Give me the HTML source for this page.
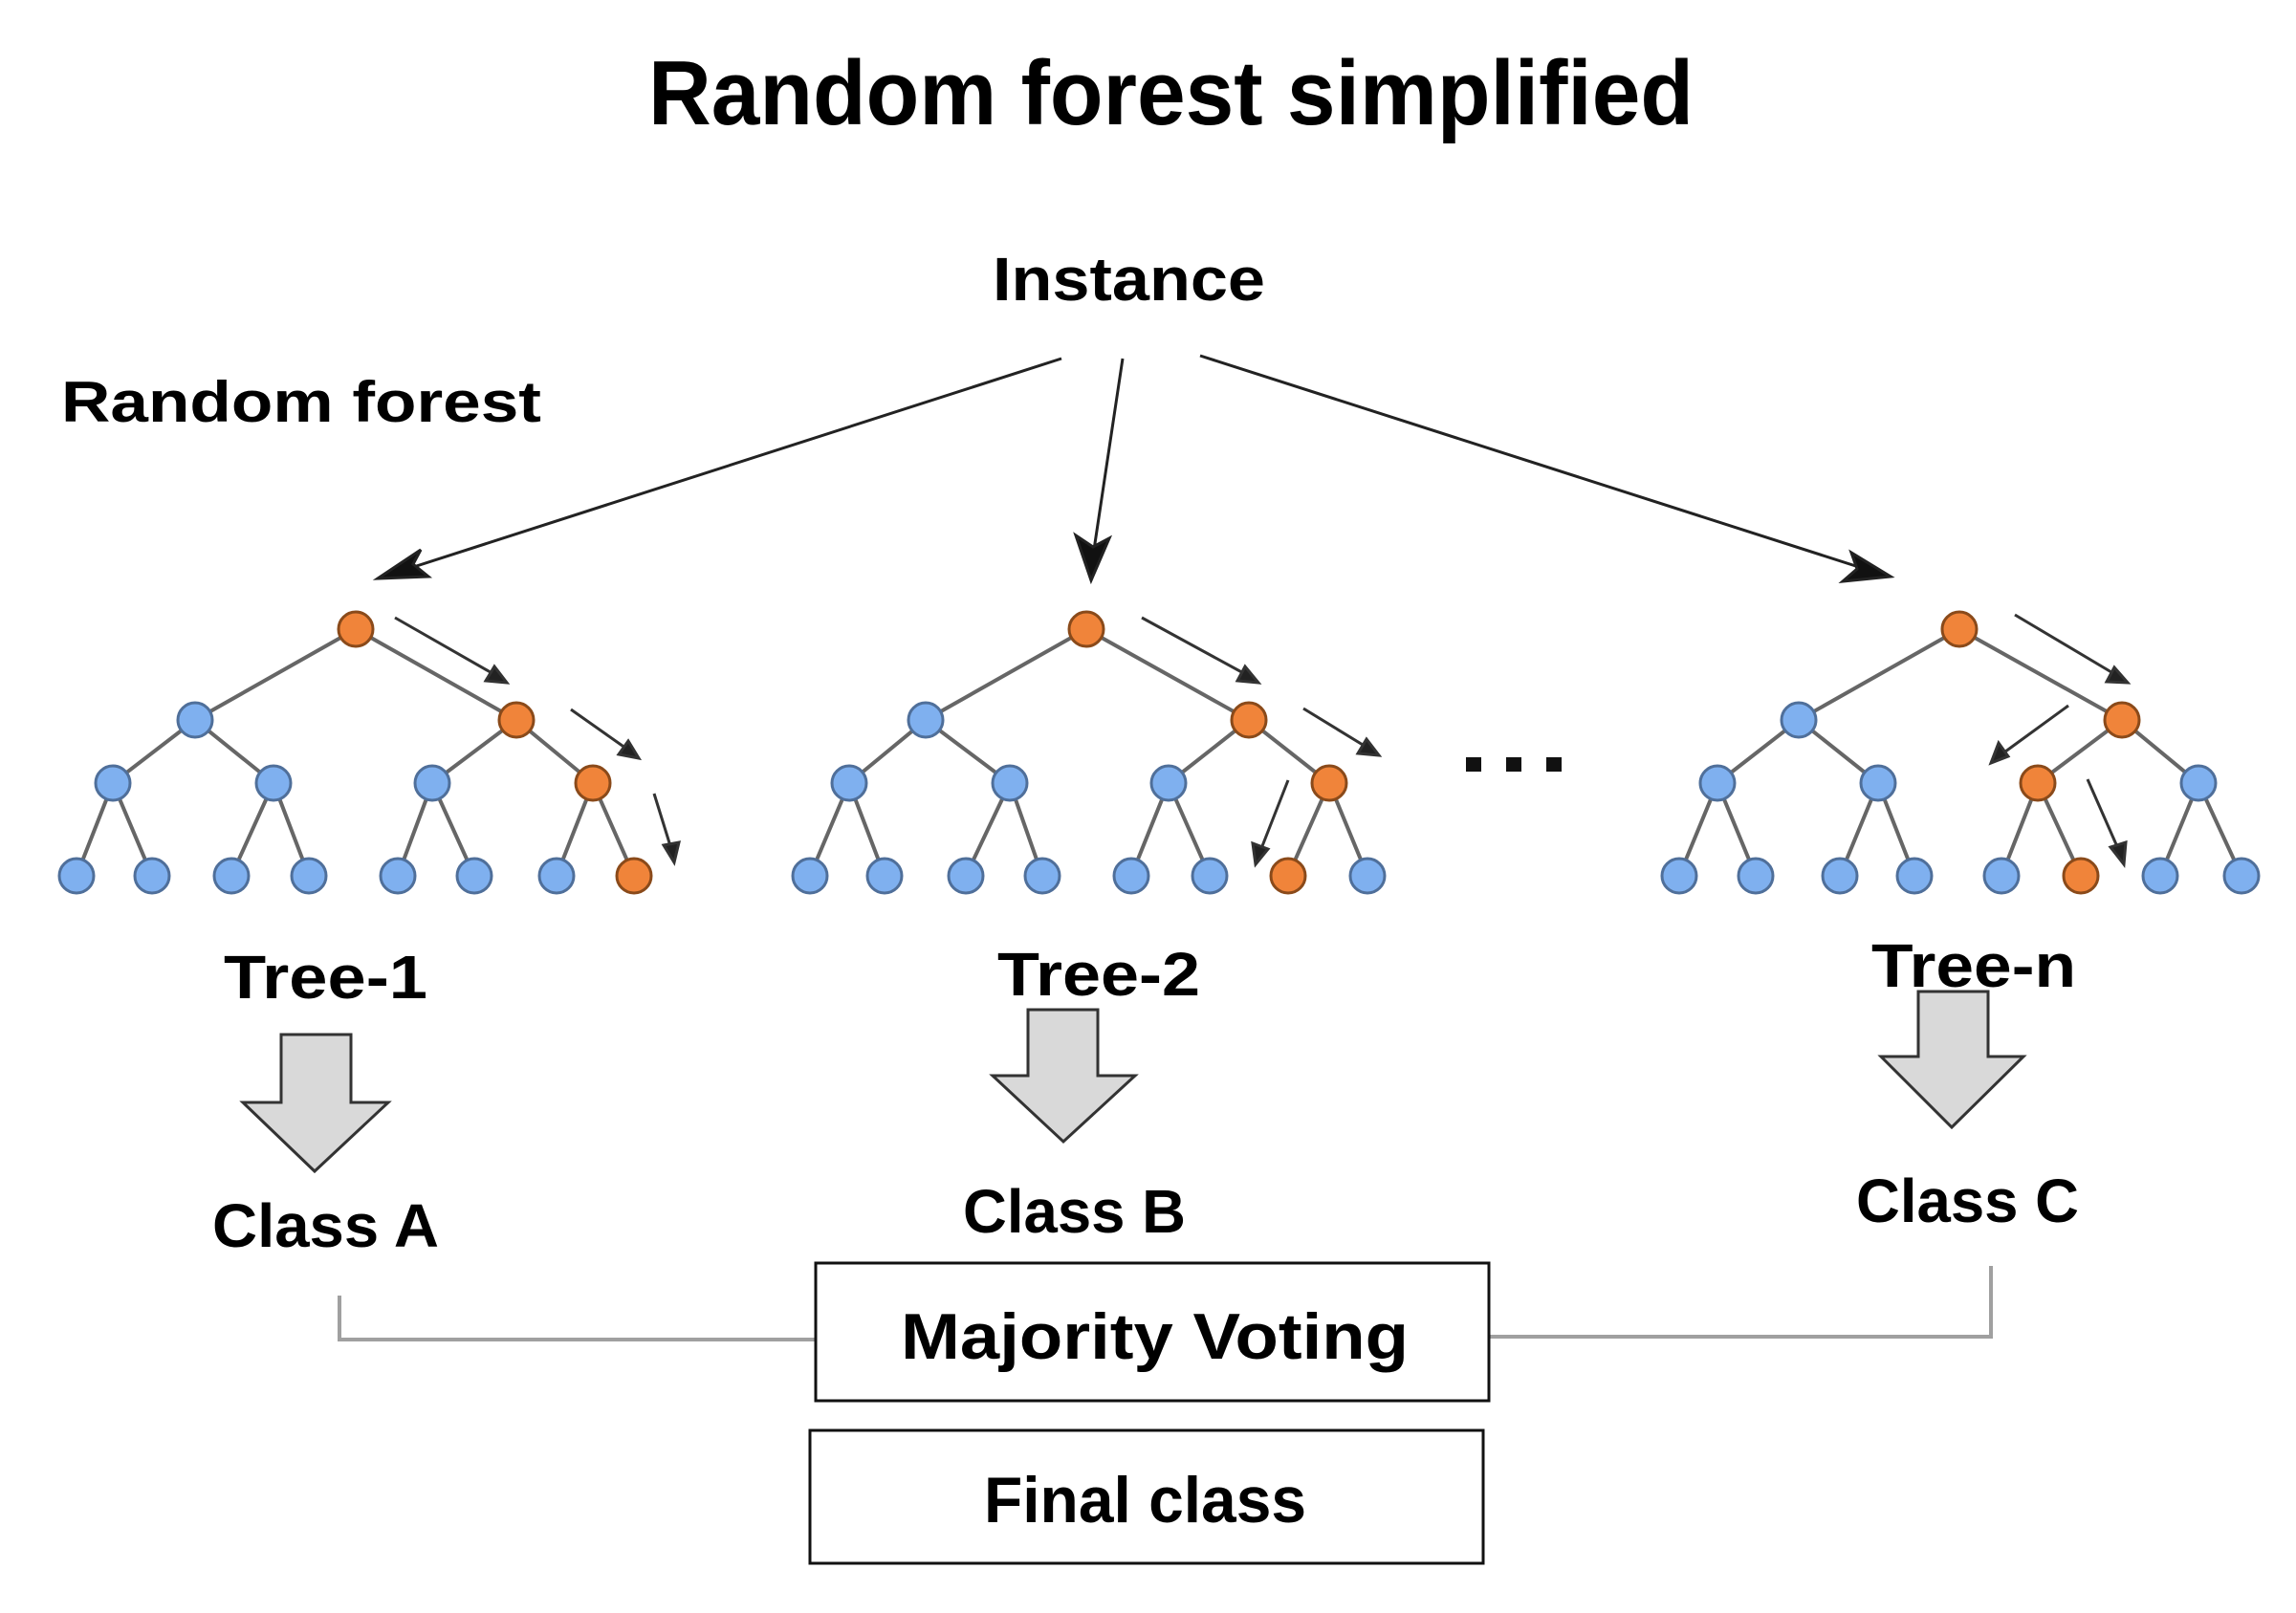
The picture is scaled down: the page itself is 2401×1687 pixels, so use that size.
<!DOCTYPE html>
<html><head><meta charset="utf-8"><style>
html,body{margin:0;padding:0;background:#fff;}
svg{display:block;}
text{font-family:"Liberation Sans",sans-serif;font-weight:bold;fill:#000;}
</style></head><body>
<svg width="2401" height="1687" viewBox="0 0 2401 1687" xmlns="http://www.w3.org/2000/svg">
<defs>
<marker id="ah" markerWidth="10" markerHeight="10" refX="9" refY="5" orient="auto" markerUnits="userSpaceOnUse" viewBox="0 0 10 10">
</marker>
</defs>
<rect width="2401" height="1687" fill="#fff"/>
<text x="678" y="130" font-size="96" textLength="1093" lengthAdjust="spacingAndGlyphs">Random forest simplified</text>
<text x="1038" y="314" font-size="64" textLength="285" lengthAdjust="spacingAndGlyphs">Instance</text>
<text x="64" y="441" font-size="60" textLength="502" lengthAdjust="spacingAndGlyphs">Random forest</text>

<!-- main arrows -->
<g stroke="#222" stroke-width="3" fill="#111">
<line x1="1110" y1="375" x2="420" y2="597"/>
<polygon points="395,605 440,575 432,590 448,603"/>
<line x1="1174" y1="375" x2="1144" y2="575"/>
<polygon points="1141,607 1125,560 1143,572 1160,563"/>
<line x1="1255" y1="372" x2="1950" y2="595"/>
<polygon points="1977,603 1927,608 1942,595 1936,578"/>
</g>

<!-- small arrows -->
<g stroke="#333" stroke-width="3" fill="#222">
<line x1="413" y1="646" x2="518" y2="706"/><polygon points="530,714 508,712 517,697"/>
<line x1="597" y1="742" x2="658" y2="785"/><polygon points="668,793 647,789 657,775"/>
<line x1="684" y1="830" x2="702" y2="888"/><polygon points="705,902 694,884 710,881"/>
<line x1="1194" y1="646" x2="1304" y2="706"/><polygon points="1316,714 1294,712 1302,697"/>
<line x1="1363" y1="741" x2="1430" y2="782"/><polygon points="1442,790 1420,788 1429,773"/>
<line x1="1347" y1="816" x2="1318" y2="890"/><polygon points="1313,904 1310,882 1326,888"/>
<line x1="2107" y1="643" x2="2213" y2="706"/><polygon points="2225,714 2203,713 2211,698"/>
<line x1="2163" y1="738" x2="2093" y2="789"/><polygon points="2082,798 2090,777 2100,791"/>
<line x1="2183" y1="815" x2="2216" y2="890"/><polygon points="2221,904 2207,886 2223,881"/>
</g>

<!-- trees -->
<g stroke="#666" stroke-width="4">
<!-- tree1 -->
<path d="M372,658 L204,753 M372,658 L540,753 M204,753 L118,819 M204,753 L286,819 M540,753 L452,819 M540,753 L620,819 M118,819 L80,916 M118,819 L159,916 M286,819 L242,916 M286,819 L323,916 M452,819 L416,916 M452,819 L496,916 M620,819 L582,916 M620,819 L663,916"/>
<path d="M1136,658 L968,753 M1136,658 L1306,753 M968,753 L888,819 M968,753 L1056,819 M1306,753 L1222,819 M1306,753 L1390,819 M888,819 L847,916 M888,819 L925,916 M1056,819 L1010,916 M1056,819 L1090,916 M1222,819 L1183,916 M1222,819 L1265,916 M1390,819 L1347,916 M1390,819 L1430,916"/>
<path d="M2049,658 L1881,753 M2049,658 L2219,753 M1881,753 L1796,819 M1881,753 L1964,819 M2219,753 L2131,819 M2219,753 L2299,819 M1796,819 L1756,916 M1796,819 L1836,916 M1964,819 L1924,916 M1964,819 L2002,916 M2131,819 L2093,916 M2131,819 L2176,916 M2299,819 L2259,916 M2299,819 L2344,916"/>
</g>
<g stroke="#4f6f9a" stroke-width="3" fill="#7fb0ef">
<circle cx="204" cy="753" r="18"/><circle cx="118" cy="819" r="18"/><circle cx="286" cy="819" r="18"/><circle cx="452" cy="819" r="18"/>
<circle cx="80" cy="916" r="18"/><circle cx="159" cy="916" r="18"/><circle cx="242" cy="916" r="18"/><circle cx="323" cy="916" r="18"/><circle cx="416" cy="916" r="18"/><circle cx="496" cy="916" r="18"/><circle cx="582" cy="916" r="18"/>
<circle cx="968" cy="753" r="18"/><circle cx="888" cy="819" r="18"/><circle cx="1056" cy="819" r="18"/><circle cx="1222" cy="819" r="18"/>
<circle cx="847" cy="916" r="18"/><circle cx="925" cy="916" r="18"/><circle cx="1010" cy="916" r="18"/><circle cx="1090" cy="916" r="18"/><circle cx="1183" cy="916" r="18"/><circle cx="1265" cy="916" r="18"/><circle cx="1430" cy="916" r="18"/>
<circle cx="1881" cy="753" r="18"/><circle cx="1796" cy="819" r="18"/><circle cx="1964" cy="819" r="18"/><circle cx="2299" cy="819" r="18"/>
<circle cx="1756" cy="916" r="18"/><circle cx="1836" cy="916" r="18"/><circle cx="1924" cy="916" r="18"/><circle cx="2002" cy="916" r="18"/><circle cx="2093" cy="916" r="18"/><circle cx="2259" cy="916" r="18"/><circle cx="2344" cy="916" r="18"/>
</g>
<g stroke="#8a4a1a" stroke-width="3" fill="#f0843a">
<circle cx="372" cy="658" r="18"/><circle cx="540" cy="753" r="18"/><circle cx="620" cy="819" r="18"/><circle cx="663" cy="916" r="18"/>
<circle cx="1136" cy="658" r="18"/><circle cx="1306" cy="753" r="18"/><circle cx="1390" cy="819" r="18"/><circle cx="1347" cy="916" r="18"/>
<circle cx="2049" cy="658" r="18"/><circle cx="2219" cy="753" r="18"/><circle cx="2131" cy="819" r="18"/><circle cx="2176" cy="916" r="18"/>
</g>

<!-- dots -->
<g fill="#111"><rect x="1533" y="792" width="16" height="15"/><rect x="1575" y="792" width="16" height="15"/><rect x="1617" y="792" width="16" height="15"/></g>

<text x="234" y="1044" font-size="64" textLength="213" lengthAdjust="spacingAndGlyphs">Tree-1</text>
<text x="1043" y="1041" font-size="64" textLength="212" lengthAdjust="spacingAndGlyphs">Tree-2</text>

<!-- block arrows -->
<g fill="#d9d9d9" stroke="#333" stroke-width="3">
<polygon points="294,1082 367,1082 367,1153 406,1153 329,1225 254,1153 294,1153"/>
<polygon points="1075,1056 1148,1056 1148,1125 1187,1125 1112,1194 1038,1125 1075,1125"/>
<polygon points="2006,1037 2079,1037 2079,1105 2116,1105 2041,1179 1967,1105 2006,1105"/>
</g>
<text x="1957" y="1032" font-size="64" textLength="214" lengthAdjust="spacingAndGlyphs">Tree-n</text>

<text x="222" y="1304" font-size="64" textLength="237" lengthAdjust="spacingAndGlyphs">Class A</text>
<text x="1007" y="1289" font-size="64" textLength="233" lengthAdjust="spacingAndGlyphs">Class B</text>
<text x="1941" y="1278" font-size="64" textLength="233" lengthAdjust="spacingAndGlyphs">Class C</text>

<!-- connectors -->
<g stroke="#a0a0a0" stroke-width="4" fill="none">
<polyline points="355,1355 355,1401 853,1401"/>
<polyline points="2082,1324 2082,1398 1557,1398"/>
</g>
<rect x="853" y="1321" width="704" height="144" fill="#fff" stroke="#111" stroke-width="3"/>
<text x="942" y="1421" font-size="68" textLength="531" lengthAdjust="spacingAndGlyphs">Majority Voting</text>
<rect x="847" y="1496" width="704" height="139" fill="#fff" stroke="#111" stroke-width="3"/>
<text x="1029" y="1592" font-size="68" textLength="337" lengthAdjust="spacingAndGlyphs">Final class</text>
</svg>
</body></html>
